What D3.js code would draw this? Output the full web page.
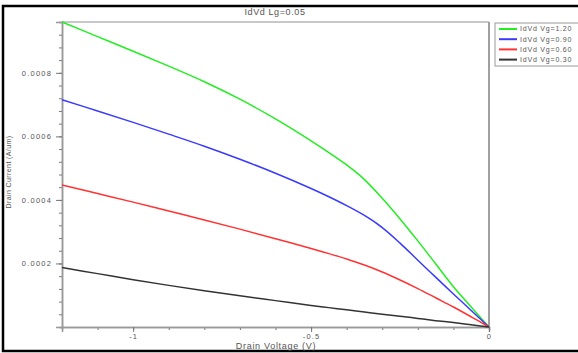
<html>
<head>
<meta charset="utf-8">
<script src="https://d3js.org/d3.v7.min.js"></script>
<style>
body {
	margin: 0;
	background: #fff;
	font-family: "Liberation Sans", Arial, sans-serif;
}
text { fill: #555; }
</style>
</head>
<body>

<svg id="chart" width="578" height="353"></svg>

<script>

// drain voltage (V) and drain current (A/um)
var vd      = [-1.2, -1.1, -1.0, -0.9, -0.8, -0.7, -0.6, -0.5, -0.45, -0.4, -0.35, -0.3, -0.25, -0.2, -0.15, -0.1, -0.05, 0]
var idVg120 = [0.000960, 0.000914, 0.000868, 0.000821, 0.000772, 0.000717, 0.000655, 0.000586, 0.000549, 0.000510, 0.000464, 0.000405, 0.000340, 0.000271, 0.000199, 0.000127, 0.000063, 0]
var idVg090 = [0.000715, 0.000680, 0.000644, 0.000607, 0.000569, 0.000528, 0.000484, 0.000436, 0.000410, 0.000382, 0.000351, 0.000313, 0.000264, 0.000210, 0.000157, 0.000104, 0.000052, 0]
var idVg060 = [0.000447, 0.000420, 0.000393, 0.000365, 0.000337, 0.000308, 0.000278, 0.000247, 0.000231, 0.000214, 0.000195, 0.000173, 0.000148, 0.000121, 0.000092, 0.000063, 0.000032, 0]
var idVg030 = [0.000187, 0.000168, 0.000149, 0.000131, 0.000114, 0.000098, 0.000083, 0.000068, 0.000061, 0.000054, 0.000047, 0.000040, 0.000034, 0.000027, 0.000020, 0.000014, 0.000007, 0]

var seriesNames  = ["IdVd Vg=1.20", "IdVd Vg=0.90", "IdVd Vg=0.60", "IdVd Vg=0.30"]
var seriesColors = ["#22ee22", "#3a3aff", "#ff3333", "#333333"]
var seriesValues = [idVg120, idVg090, idVg060, idVg030]

var xMajor = [-1, -0.5, 0]
var yMajor = [0.0002, 0.0004, 0.0006, 0.0008]

var svg = d3.select("#chart"),
	margin = {top: 22, left: 62, bottom: 26, right: 89},
	width = +svg.attr("width"),
	height = +svg.attr("height");

var x = d3.scaleLinear()
	.domain([-1.2, 0])
	.range([margin.left, width - margin.right])

var y = d3.scaleLinear()
	.domain([0, 0.00096])
	.range([height - margin.bottom, margin.top])

// outer frame
svg.append("rect")
	.attr("x", 3).attr("y", 6)
	.attr("width", 590).attr("height", 345)
	.attr("fill", "none")
	.attr("stroke", "#000")
	.attr("stroke-width", 2.5)

// plot frame (top + right)
svg.append("line")
	.attr("x1", x(-1.2)).attr("x2", x(0))
	.attr("y1", y(0.00096)).attr("y2", y(0.00096))
	.attr("stroke", "#c8c8c8").attr("stroke-width", 2)
svg.append("line")
	.attr("x1", x(0)).attr("x2", x(0))
	.attr("y1", y(0.00096)).attr("y2", y(0))
	.attr("stroke", "#a0a0a0").attr("stroke-width", 2)

// minor ticks
var yMinor = d3.range(0, 25).map(i => i * 0.00004)
var xMinor = d3.range(0, 13).map(i => -1.2 + i * 0.1)

svg.append("g")
	.attr("class", "axis")
	.attr("transform", `translate(${margin.left},0)`)
	.call(d3.axisLeft(y).tickValues(yMinor).tickSize(3).tickFormat(""))

svg.append("g")
	.attr("class", "axis")
	.attr("transform", `translate(0,${height - margin.bottom})`)
	.call(d3.axisBottom(x).tickValues(xMinor).tickSize(3).tickFormat(""))

var yAxis = svg.append("g")
	.attr("class", "axis")
	.attr("transform", `translate(${margin.left},0)`)
	.call(d3.axisLeft(y).tickValues(yMajor).tickSize(6).tickPadding(4).tickFormat(d3.format(".4f")))

var xAxis = svg.append("g")
	.attr("class", "axis")
	.attr("transform", `translate(0,${height - margin.bottom})`)
	.call(d3.axisBottom(x).tickValues(xMajor).tickSize(5).tickPadding(2).tickFormat(d => String(d)))

svg.selectAll(".axis path").attr("stroke", "#999").attr("stroke-width", 1.5)
svg.selectAll(".axis line").attr("stroke", "#777")
svg.selectAll(".axis text")
	.attr("fill", "#555")
	.style("font-size", "7.5px")
	.style("letter-spacing", "1.2px")

// curves
var line = d3.line()
	.x((d, i) => x(vd[i]))
	.y(d => y(d))
	.curve(d3.curveCatmullRom.alpha(0.5))

svg.selectAll("path.curve")
	.data(seriesValues)
	.enter().append("path")
	.attr("class", "curve")
	.attr("fill", "none")
	.attr("stroke", (d, i) => seriesColors[i])
	.attr("stroke-width", 1.5)
	.attr("d", line)

// titles
svg.append("text")
	.attr("x", 275).attr("y", 15)
	.attr("text-anchor", "middle")
	.style("font-size", "9px")
	.style("letter-spacing", "0.6px")
	.text("IdVd Lg=0.05")

svg.append("text")
	.attr("x", 276).attr("y", 349)
	.attr("text-anchor", "middle")
	.style("font-size", "9px")
	.style("letter-spacing", "0.7px")
	.text("Drain Voltage (V)")

svg.append("text")
	.attr("transform", "translate(11,172) rotate(-90)")
	.attr("text-anchor", "middle")
	.style("font-size", "7px")
	.style("letter-spacing", "0.4px")
	.text("Drain Current (A/um)")

// legend
var legend = svg.append("g").attr("transform", "translate(495,23)")

legend.append("rect")
	.attr("x", 0).attr("y", 0)
	.attr("width", 100).attr("height", 43)
	.attr("fill", "#fff")
	.attr("stroke", "#999")
	.attr("stroke-width", 1)

var item = legend.selectAll("g.item")
	.data(seriesNames)
	.enter().append("g")
	.attr("class", "item")
	.attr("transform", (d, i) => `translate(0,${6 + i * 10.2})`)

item.append("line")
	.attr("x1", 4).attr("x2", 22)
	.attr("stroke", (d, i) => seriesColors[i])
	.attr("stroke-width", 2)

item.append("text")
	.attr("x", 25).attr("dy", "0.35em")
	.style("font-size", "7px")
	.style("letter-spacing", "0.8px")
	.text(d => d)

</script>

</body>
</html>
